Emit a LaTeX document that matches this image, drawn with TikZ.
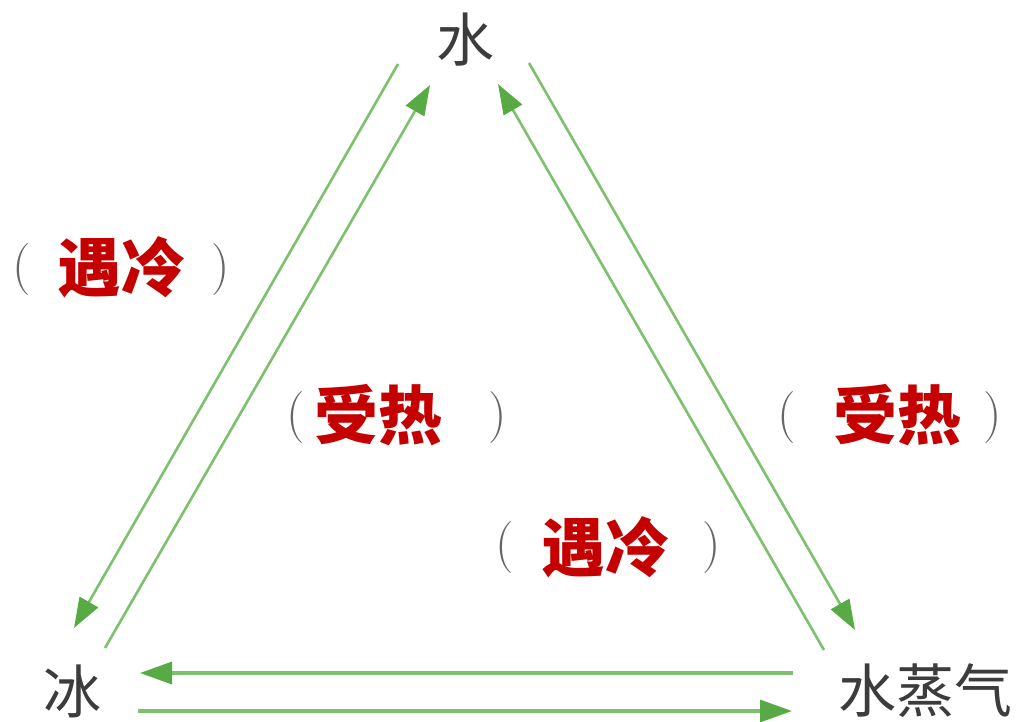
\documentclass[tikz,border=0pt]{standalone}
\usepackage{fontspec}
\usetikzlibrary{arrows.meta}
\newfontfamily\cjk{Noto Sans CJK SC}
\definecolor{lineg}{RGB}{125,192,110}
\definecolor{headg}{RGB}{88,170,68}
\definecolor{labred}{RGB}{196,0,0}
\definecolor{txtgray}{RGB}{60,60,60}
\begin{document}
\begin{tikzpicture}[x=1pt,y=-1pt,
  state/.style={font=\cjk\fontsize{58}{60}\selectfont, text=txtgray, inner sep=0pt},
  lab/.style={font=\cjk\bfseries\fontsize{64}{66}\selectfont, text=labred, inner sep=0pt},
  par/.style={font=\fontsize{52}{54}\selectfont, text=black!60, inner sep=0pt},
  conn/.style={draw=lineg, line width=2.6pt, -{Triangle[length=30pt,width=21pt,color=headg]}},
  connb/.style={draw=lineg, line width=3.4pt, -{Triangle[length=32pt,width=22pt,color=headg]}}]
\useasboundingbox (0,0) rectangle (1017,721);
% states
\node[state] (water) at (465,40) {水};
\node[state] (ice) at (72,691) {冰};
\node[state] (vapor) at (925,691) {水蒸气};
% labels
\node[par] (p1l) at (22,270) {(};
\node[lab] (t1) at (121,267) {遇冷};
\node[par] (p1r) at (221,270) {)};
\node[par] (p2l) at (296,418) {(};
\node[lab] (t2) at (378,415) {受热};
\node[par] (p2r) at (498,418) {)};
\node[par] (p3l) at (787,418) {(};
\node[lab] (t3) at (897,415) {受热};
\node[par] (p3r) at (993,418) {)};
\node[par] (p4l) at (505,548) {(};
\node[lab] (t4) at (605,547) {遇冷};
\node[par] (p4r) at (712,548) {)};
% connector end points
\coordinate (l1s) at (398,64);  \coordinate (l1e) at (74,628);
\coordinate (l2s) at (105,648); \coordinate (l2e) at (430,85);
\coordinate (r1s) at (824,650); \coordinate (r1e) at (498,84);
\coordinate (r2s) at (529,63);  \coordinate (r2e) at (855,630);
\coordinate (b1s) at (793,673); \coordinate (b1e) at (140,673);
\coordinate (b2s) at (138,711); \coordinate (b2e) at (792,711);
% connectors
\draw[conn] (l1s) -- (l1e);
\draw[conn] (l2s) -- (l2e);
\draw[conn] (r1s) -- (r1e);
\draw[conn] (r2s) -- (r2e);
\draw[connb] (b1s) -- (b1e);
\draw[connb] (b2s) -- (b2e);
\end{tikzpicture}
\end{document}
